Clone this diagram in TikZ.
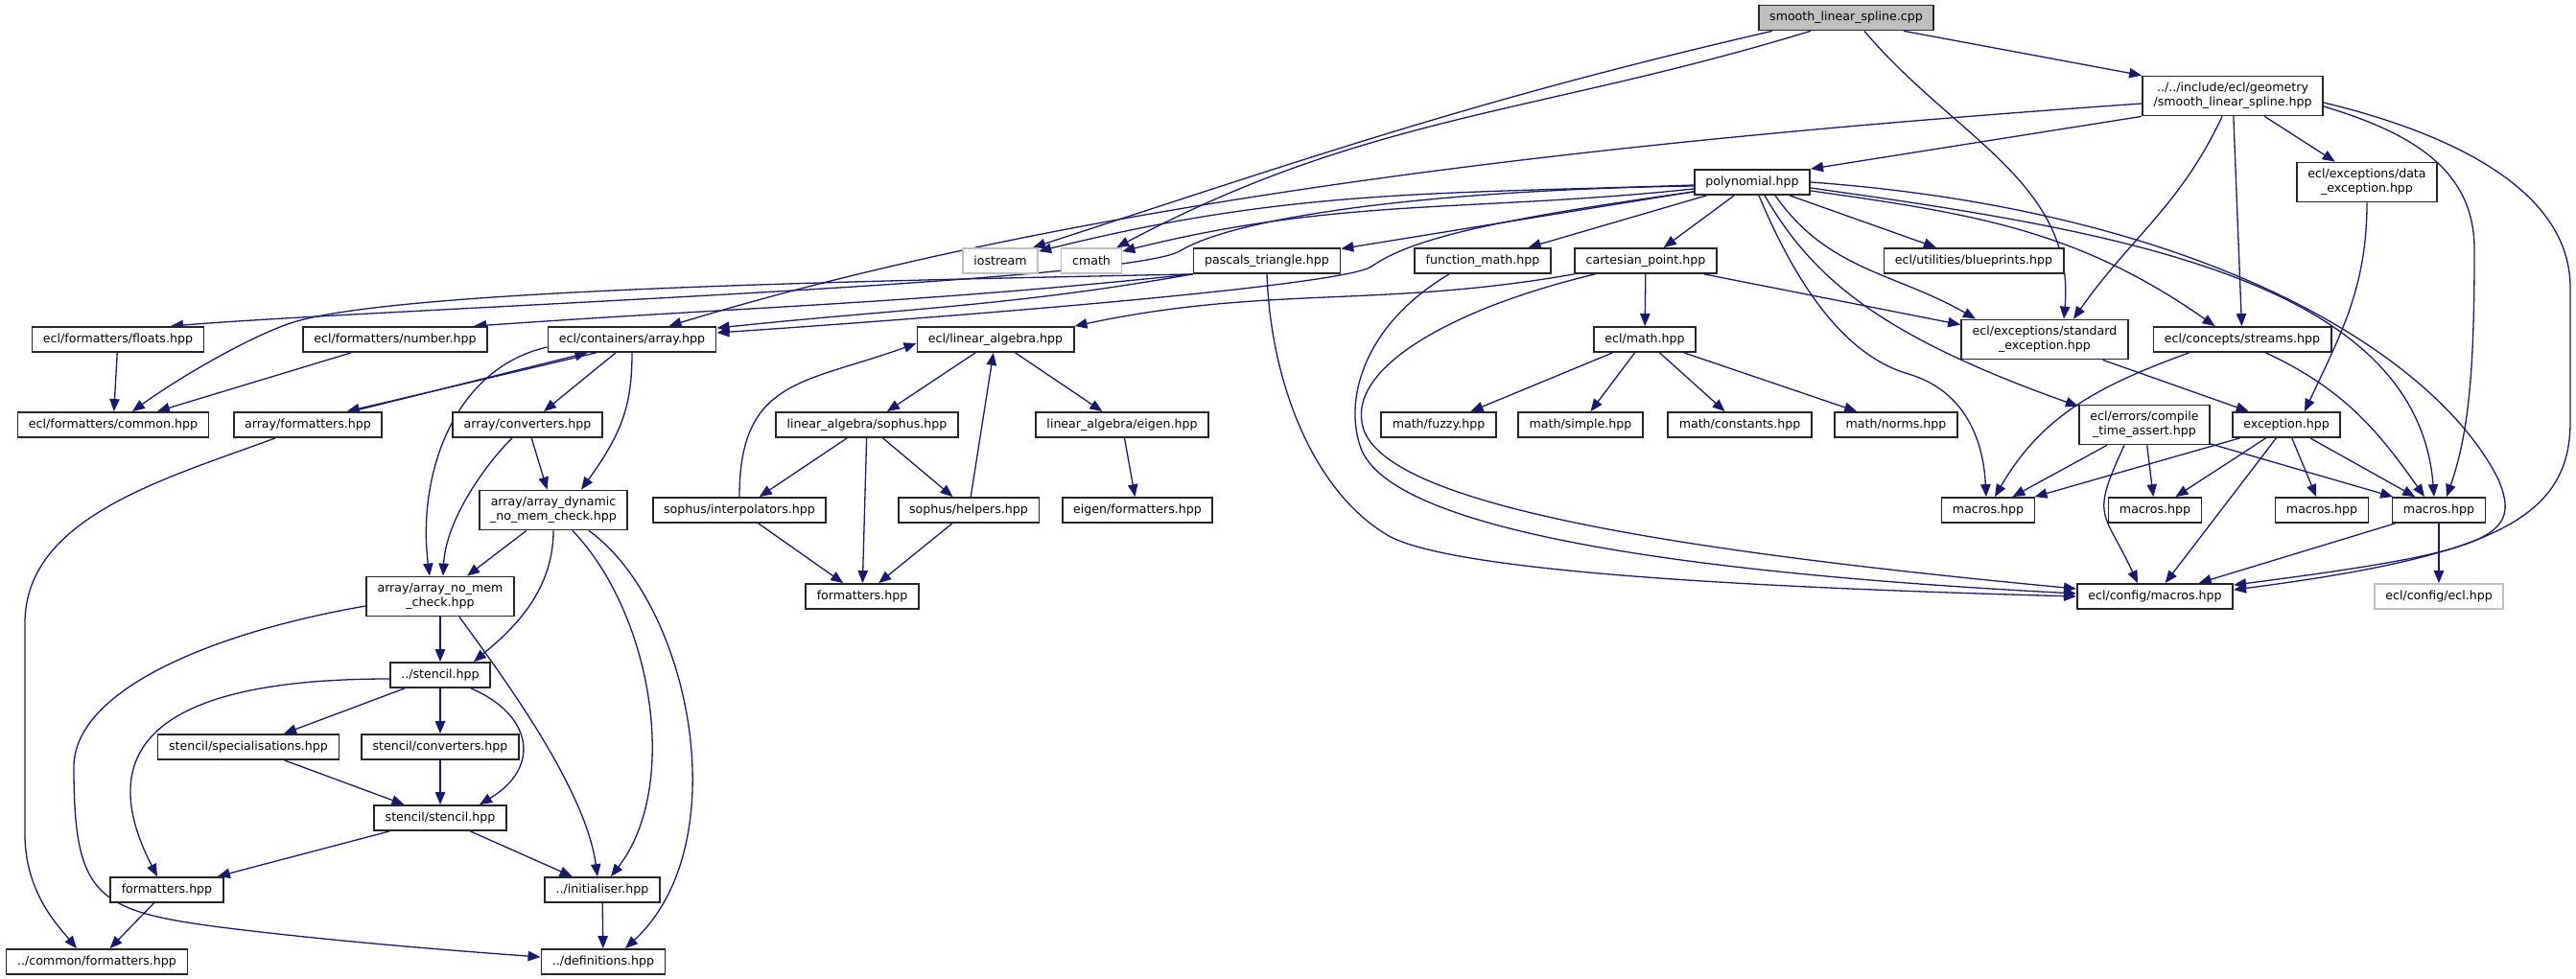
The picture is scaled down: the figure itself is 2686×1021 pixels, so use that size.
\documentclass[tikz,border=0pt]{standalone}
\usepackage{fontspec}
\setmainfont{DejaVu Sans}
\usetikzlibrary{arrows.meta,backgrounds}
\definecolor{edgeblue}{HTML}{191970}
\definecolor{nodegray}{HTML}{BFBFBF}

\begin{document}
\begin{tikzpicture}[
  x=0.5pt, y=0.5pt,
  file/.style={draw=black!85, line width=0.9pt, fill=white, font=\fontsize{6.3}{7.6}\selectfont, align=center, inner xsep=5.75pt, inner ysep=1pt, minimum height=13pt},
  tall/.style={file, minimum height=20.5pt},
  sysfile/.style={file, draw=nodegray},
  srcfile/.style={file, fill=nodegray},
  dep/.style={draw=edgeblue, line width=0.65pt, -{Triangle[length=6.5pt,width=5.2pt]}}
]
\useasboundingbox (0,0) rectangle (2686,-1021);

\node[srcfile] (cpp)     at (1925,-18.5) {smooth\_linear\_spline.cpp};
\node[tall]    (geo)     at (2328,-100)  {../../include/ecl/geometry\\/smooth\_linear\_spline.hpp};
\node[file]    (poly)    at (1827,-190)  {polynomial.hpp};
\node[tall]    (dataexc) at (2468,-190)  {ecl/exceptions/data\\\_exception.hpp};

\node[sysfile] (iostream) at (1043,-272) {iostream};
\node[sysfile] (cmath)    at (1138,-272) {cmath};
\node[file]    (pascal)   at (1321,-272) {pascals\_triangle.hpp};
\node[file]    (fmath)    at (1546,-272) {function\_math.hpp};
\node[file]    (cart)     at (1716,-272) {cartesian\_point.hpp};
\node[file]    (blue)     at (2058,-272) {ecl/utilities/blueprints.hpp};

\node[file] (floats)  at (123,-354)  {ecl/formatters/floats.hpp};
\node[file] (number)  at (412,-354)  {ecl/formatters/number.hpp};
\node[file] (array)   at (659,-354)  {ecl/containers/array.hpp};
\node[file] (linalg)  at (1038,-354) {ecl/linear\_algebra.hpp};
\node[file] (emath)   at (1715,-354) {ecl/math.hpp};
\node[tall] (stdexc)  at (2132,-354) {ecl/exceptions/standard\\\_exception.hpp};
\node[file] (streams) at (2338,-354) {ecl/concepts/streams.hpp};

\node[file] (common)  at (118,-443)  {ecl/formatters/common.hpp};
\node[file] (arrfmt)  at (321,-443)  {array/formatters.hpp};
\node[file] (arrconv) at (550,-443)  {array/converters.hpp};
\node[file] (sophus)  at (904,-443)  {linear\_algebra/sophus.hpp};
\node[file] (eigen)   at (1170,-443) {linear\_algebra/eigen.hpp};
\node[file] (fuzzy)   at (1500,-443) {math/fuzzy.hpp};
\node[file] (simple)  at (1648,-443) {math/simple.hpp};
\node[file] (consts)  at (1814,-443) {math/constants.hpp};
\node[file] (norms)   at (1977,-443) {math/norms.hpp};
\node[tall] (cta)     at (2236,-443) {ecl/errors/compile\\\_time\_assert.hpp};
\node[file] (exc)     at (2384,-443) {exception.hpp};

\node[tall] (arrdyn)  at (577,-532)  {array/array\_dynamic\\\_no\_mem\_check.hpp};
\node[file] (interp)  at (771,-532)  {sophus/interpolators.hpp};
\node[file] (helpers) at (1010,-532) {sophus/helpers.hpp};
\node[file] (eigfmt)  at (1186,-532) {eigen/formatters.hpp};
\node[file] (macA)    at (2073,-532) {macros.hpp};
\node[file] (macB)    at (2247,-532) {macros.hpp};
\node[file] (macC)    at (2421,-532) {macros.hpp};
\node[file] (macD)    at (2543,-532) {macros.hpp};

\node[tall]    (arrnomem) at (459,-622)  {array/array\_no\_mem\\\_check.hpp};
\node[file]    (sfmt)     at (899,-622)  {formatters.hpp};
\node[file]    (cfgmac)   at (2247,-622) {ecl/config/macros.hpp};
\node[sysfile] (cfgecl)   at (2543,-622) {ecl/config/ecl.hpp};

\node[file] (stencil)  at (459,-704)  {../stencil.hpp};
\node[file] (spec)     at (259,-779)  {stencil/specialisations.hpp};
\node[file] (sconv)    at (459,-779)  {stencil/converters.hpp};
\node[file] (sstencil) at (459,-853)  {stencil/stencil.hpp};
\node[file] (fmt)      at (174,-928)  {formatters.hpp};
\node[file] (init)     at (628,-928)  {../initialiser.hpp};
\node[file] (cfmt)     at (101,-1003) {../common/formatters.hpp};
\node[file] (defs)     at (629,-1003) {../definitions.hpp};

\begin{pgfonlayer}{background}
\fill[white] (0,0) rectangle (2686,-1021);

% smooth_linear_spline.cpp
\draw[dep] ([xshift=7.5pt]cpp.south west) to[out=193,in=18] ([xshift=-3pt]iostream.north east);
\draw[dep] ([xshift=27.5pt]cpp.south west) to[out=197,in=28] ([xshift=-3pt]cmath.north east);
\draw[dep] ([xshift=9.5pt]cpp.south) to[out=-50,in=85] ([xshift=10pt]stdexc.north);
\draw[dep] ([xshift=-16pt]cpp.south east) -- (geo.north west);

% smooth_linear_spline.hpp
\draw[dep] ([yshift=-4pt]geo.west) to[out=184,in=17,looseness=0.8] ([xshift=-25pt]array.north east);
\draw[dep] (geo.south west) -- (poly.north east);
\draw[dep] ([xshift=-5.5pt]geo.south) to[out=245,in=55] ([xshift=15pt]stdexc.north);
\draw[dep] (geo) -- (streams);
\draw[dep] (geo) -- (dataexc);
\draw[dep] ([yshift=-5.5pt]geo.east) .. controls (2520,-140) and (2580,-180) .. (2580,-260)
  .. controls (2580,-380) and (2575,-450) .. ([xshift=4pt]macD.north);
\draw[dep] ([yshift=-3.5pt]geo.east) .. controls (2560,-140) and (2680,-200) .. (2680,-300) -- (2680,-440)
  .. controls (2680,-540) and (2600,-580) .. ([yshift=-3.5pt]cfgmac.north east);

% polynomial.hpp
\draw[dep] ([yshift=-1.5pt]poly.west) to[out=182,in=14] ([yshift=-2pt]iostream.north east);
\draw[dep] ([yshift=-3.5pt]poly.west) to[out=186,in=14] ([yshift=-2pt]cmath.north east);
\draw[dep] (poly) -- (pascal);
\draw[dep] (poly) -- (fmath);
\draw[dep] (poly) -- (cart);
\draw[dep] (poly) -- (blue);
\draw[dep] ([xshift=12pt]poly.south) to[out=-55,in=150] ([xshift=-36pt]stdexc.north);
\draw[dep] ([yshift=-4.5pt]poly.east) to[out=-8,in=145] ([xshift=32.5pt]streams.north west);
\draw[dep] (poly.east) .. controls (2300,-220) and (2540,-370) .. (2605,-500)
  .. controls (2630,-560) and (2600,-575) .. ([yshift=-1pt]cfgmac.north east);
\draw[dep] ([yshift=-3pt]poly.east) .. controls (2200,-240) and (2520,-290) .. ([xshift=-2.5pt]macD.north);
\draw[dep] ([xshift=3.5pt]poly.south) .. controls (1870,-290) and (1920,-370) .. (1990,-390)
  .. controls (2050,-408) and (2068,-460) .. ([xshift=-1pt]macA.north);
\draw[dep] ([xshift=6.5pt]poly.south) .. controls (1890,-290) and (1960,-350) .. ([yshift=-1pt]cta.north west);
\draw[dep] ([yshift=-2pt]poly.west) .. controls (1500,-198) and (1290,-225) .. (1230,-262)
  .. controls (1170,-295) and (400,-322) .. ([xshift=27.5pt]floats.north);
\draw[dep] ([yshift=-5pt]poly.west) .. controls (1550,-230) and (1470,-250) .. (1430,-278)
  .. controls (1400,-298) and (1000,-330) .. ([yshift=3.5pt]array.east);

% pascals_triangle.hpp, function_math.hpp, cartesian_point.hpp
\draw[dep] (pascal.south west) .. controls (900,-293) and (400,-302) .. (300,-338)
  .. controls (255,-354) and (185,-395) .. ([xshift=10pt]common.north);
\draw[dep] (pascal.south west) to[out=186,in=4] ([xshift=41pt]number.north);
\draw[dep] (pascal.south west) to[out=190,in=6] ([yshift=-1pt]array.north east);
\draw[dep] (pascal.south) .. controls (1325,-400) and (1370,-515) .. (1450,-560)
  .. controls (1520,-595) and (1800,-612) .. (cfgmac.west);
\draw[dep] ([xshift=-17.5pt]fmath.south) .. controls (1420,-340) and (1400,-420) .. (1420,-470)
  .. controls (1460,-560) and (1800,-600) .. ([yshift=1.5pt]cfgmac.west);
\draw[dep] (cart) -- (emath);
\draw[dep] ([xshift=-7pt]cart.south east) -- ([yshift=-3pt]stdexc.north west);
\draw[dep] (cart.south west) to[out=190,in=12] (linalg.north east);
\draw[dep] ([xshift=11pt]cart.south west) .. controls (1520,-320) and (1410,-380) .. (1420,-440)
  .. controls (1430,-520) and (1700,-570) .. ([yshift=4pt]cfgmac.west);

% ecl/math.hpp, ecl/linear_algebra.hpp
\draw[dep] (emath) -- (fuzzy);
\draw[dep] (emath) -- (simple);
\draw[dep] (emath) -- (consts);
\draw[dep] (emath) -- (norms);
\draw[dep] (linalg) -- (sophus);
\draw[dep] (linalg) -- (eigen);
\draw[dep] (helpers) -- (linalg);
\draw[dep] (interp.north) to[out=90,in=200,looseness=1.3] ([yshift=-2pt]linalg.west);
\draw[dep] (sophus) -- (interp);
\draw[dep] (sophus) -- (helpers);
\draw[dep] (sophus) -- (sfmt);
\draw[dep] (interp) -- (sfmt);
\draw[dep] (helpers) -- (sfmt);
\draw[dep] (eigen) -- (eigfmt);

% exceptions, concepts, errors
\draw[dep] (stdexc) -- (exc);
\draw[dep] (dataexc.south) to[out=-90,in=65] ([xshift=9.5pt]exc.north);
\draw[dep] ([xshift=19pt]streams.south west) to[out=200,in=60] ([xshift=3.5pt]macA.north);
\draw[dep] ([xshift=59pt]streams.south west) to[out=-25,in=125] ([xshift=-7.5pt]macD.north);
\draw[dep] (cta) -- (macA);
\draw[dep] ([xshift=-10.5pt]cta.south) to[out=245,in=115,looseness=1.5] ([xshift=-9pt]cfgmac.north);
\draw[dep] (cta) -- (macB);
\draw[dep] (cta) -- (macD);
\draw[dep] (exc) -- (macA);
\draw[dep] (exc) -- (macB);
\draw[dep] (exc) -- (cfgmac);
\draw[dep] (exc) -- (macC);
\draw[dep] (exc) -- (macD);
\draw[dep] (macD) -- (cfgmac);
\draw[dep] (macD) -- (cfgecl);

% containers
\draw[dep] (floats) -- (common);
\draw[dep] (number) -- (common);
\draw[dep] ([xshift=25.5pt]array.south west) -- ([xshift=59.5pt]arrfmt.north west);
\draw[dep] ([xshift=62pt]arrfmt.north west) -- ([xshift=21pt]array.south west);
\draw[dep] (array) -- (arrconv);
\draw[dep] (array.south) .. controls (659,-420) and (650,-450) .. ([xshift=14.5pt]arrdyn.north);
\draw[dep] ([yshift=-4pt]array.west) .. controls (470,-385) and (435,-500) .. ([xshift=-5.5pt]arrnomem.north);
\draw[dep] (arrconv) -- (arrdyn);
\draw[dep] ([xshift=-8pt]arrconv.south) .. controls (510,-480) and (465,-540) .. ([xshift=1.5pt]arrnomem.north);
\draw[dep] (arrdyn) -- (arrnomem);
\draw[dep] (arrdyn.south) .. controls (577,-620) and (530,-660) .. ([xshift=17.5pt]stencil.north);
\draw[dep] ([xshift=10pt]arrdyn.south) .. controls (680,-640) and (710,-820) .. ([xshift=4.5pt]init.north);
\draw[dep] ([xshift=18.5pt]arrdyn.south) .. controls (720,-630) and (770,-880) .. ([xshift=11.5pt]defs.north);
\draw[dep] (arrnomem) -- (stencil);
\draw[dep] ([xshift=10pt]arrnomem.south) .. controls (520,-700) and (610,-820) .. ([xshift=-2.5pt]init.north);
\draw[dep] ([yshift=-5pt]arrnomem.west) .. controls (220,-660) and (77,-720) .. (77,-800)
  .. controls (77,-935) and (100,-950) .. (230,-967)
  .. controls (350,-982) and (480,-992) .. ([yshift=2.5pt]defs.west);
\draw[dep] ([xshift=-17pt]arrfmt.south) .. controls (170,-500) and (26,-540) .. (26,-650) -- (26,-870)
  .. controls (26,-930) and (60,-965) .. ([xshift=-10.5pt]cfmt.north);

% stencil
\draw[dep] (stencil) -- (spec);
\draw[dep] (stencil) -- (sconv);
\draw[dep] ([xshift=16pt]stencil.south) .. controls (555,-745) and (565,-800) .. ([xshift=20.5pt]sstencil.north);
\draw[dep] ([yshift=-2pt]stencil.west) .. controls (180,-708) and (90,-770) .. ([xshift=-5pt]fmt.north);
\draw[dep] (spec) -- (sstencil);
\draw[dep] (sconv) -- (sstencil);
\draw[dep] (sstencil) -- (fmt);
\draw[dep] (sstencil) -- (init);
\draw[dep] (fmt) -- (cfmt);
\draw[dep] (init) -- (defs);
\end{pgfonlayer}
\end{tikzpicture}
\end{document}
